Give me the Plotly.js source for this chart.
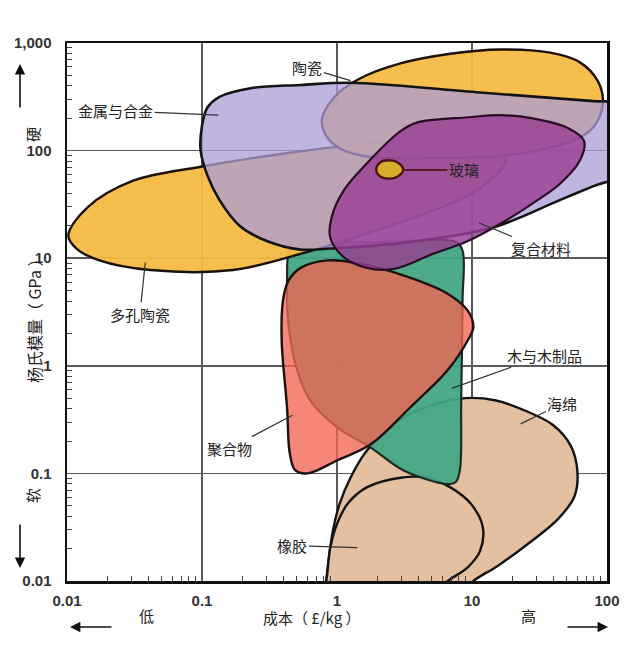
<!DOCTYPE html>
<html><head><meta charset="utf-8">
<script src="https://cdn.plot.ly/plotly-3.0.1.min.js"></script>
<style>html,body{margin:0;padding:0;background:#fff}</style>
</head><body><div id="chart" style="width:640px;height:649px"></div>
<script>
// Tick labels
const xTickVals = [0.01, 0.1, 1, 10, 100];
const xTickText = ['0.01', '0.1', '1', '10', '100'];
const yTickVals = [0.01, 0.1, 1, 10, 100, 1000];
const yTickText = ['0.01', '0.1', '1', '10', '100', '1,000'];

// Material envelopes: log10(cost £/kg), log10(Young's modulus GPa)
const foamLogCost = [-0.09,-0.08,-0.03,0.02,0.10,0.22,0.43,0.69,0.95,1.17,1.40,1.60,1.73,1.78,1.76,1.64,1.43,1.19,1.01,0.91];
const foamLogModulus = [-2.13,-2.00,-1.53,-1.28,-1.04,-0.79,-0.53,-0.37,-0.30,-0.32,-0.42,-0.55,-0.74,-0.97,-1.21,-1.42,-1.64,-1.86,-2.00,-2.13];

const rubberLogCost = [-0.11,-0.08,-0.05,0.00,0.08,0.22,0.47,0.67,0.84,0.99,1.08,1.06,0.97,0.82,0.69];
const rubberLogModulus = [-2.13,-2.00,-1.69,-1.47,-1.28,-1.13,-1.04,-1.04,-1.13,-1.28,-1.50,-1.72,-1.87,-2.00,-2.13];

const woodLogCost = [-0.35,-0.27,0.32,0.88,0.93,0.93,0.92,0.91,0.88,0.82,0.49,0.25,0.00,-0.20,-0.30,-0.36,-0.37];
const woodLogModulus = [1.07,1.13,1.15,1.15,1.07,0.61,-0.32,-0.97,-1.08,-1.10,-0.97,-0.76,-0.57,-0.32,-0.02,0.39,0.79];

const polymerLogCost = [-0.40,-0.41,-0.37,-0.35,-0.31,-0.22,0.00,0.25,0.54,0.82,0.97,1.01,0.97,0.82,0.54,0.17,-0.07,-0.27,-0.36];
const polymerLogModulus = [0.61,0.24,-0.39,-0.81,-0.97,-1.00,-0.88,-0.73,-0.39,-0.04,0.24,0.36,0.51,0.67,0.82,0.95,0.98,0.91,0.79];

const porousLogCost = [-1.99,-1.85,-1.51,-1.01,-0.35,0.25,0.77,1.14,1.25,1.06,0.62,0.02,-0.27,-0.77,-1.38,-1.76,-1.93];
const porousLogModulus = [1.21,1.47,1.72,1.85,1.98,2.07,2.12,2.08,1.91,1.65,1.40,1.15,1.04,0.89,0.89,0.98,1.09];

const ceramicLogCost = [-0.11,-0.01,0.17,0.47,0.84,1.21,1.58,1.80,1.93,1.97,1.94,1.86,1.65,1.21,0.69,0.25,0.02,-0.09];
const ceramicLogModulus = [2.30,2.51,2.67,2.81,2.90,2.94,2.91,2.82,2.65,2.47,2.30,2.17,2.05,1.95,1.93,1.94,2.02,2.16];

const metalLogCost = [-1.01,-1.00,-0.96,-0.87,-0.64,-0.27,0.10,1.06,1.90,2.40,2.40,1.90,1.65,1.14,0.47,-0.05,-0.27,-0.52,-0.72,-0.87,-0.96];
const metalLogModulus = [2.00,2.23,2.40,2.50,2.58,2.61,2.63,2.54,2.46,2.41,1.92,1.67,1.54,1.28,1.14,1.09,1.08,1.16,1.30,1.54,1.77];

const compositeLogCost = [-0.05,-0.04,0.05,0.22,0.47,0.59,0.97,1.21,1.45,1.71,1.83,1.80,1.65,1.45,1.21,0.97,0.71,0.42,0.22,0.05];
const compositeLogModulus = [1.19,1.38,1.63,1.88,2.18,2.26,2.31,2.33,2.30,2.21,2.09,1.91,1.69,1.51,1.32,1.16,1.04,0.90,0.91,1.01];

const glassLogCost = [0.29,0.32,0.39,0.45,0.49,0.45,0.39,0.32];
const glassLogModulus = [1.82,1.89,1.91,1.89,1.82,1.76,1.74,1.76];

// Labels: text, text position and leader-line target (log10 units)
const labelText = ['陶瓷','金属与合金','玻璃','复合材料','多孔陶瓷','木与木制品','海绵','聚合物','橡胶'];
const labelLogCost = [-0.22,-1.64,0.94,1.51,-1.46,1.54,1.67,-0.80,-0.33];
const labelLogModulus = [2.77,2.37,1.82,1.09,0.48,0.10,-0.35,-0.77,-1.67];
const targetLogCost = [0.10,-0.88,0.49,1.05,-1.42,0.85,1.36,-0.33,0.15];
const targetLogModulus = [2.65,2.33,1.82,1.33,0.96,-0.21,-0.54,-0.46,-1.69];

function blob(lc, lm, fill, line, lw) {
  const xs = lc.concat([lc[0]]).map(v => Math.pow(10, v));
  const ys = lm.concat([lm[0]]).map(v => Math.pow(10, v));
  return {
    type: 'scatter', mode: 'lines', x: xs, y: ys, fill: 'toself',
    fillcolor: fill, line: {color: line, width: lw, shape: 'spline', smoothing: 1},
    hoverinfo: 'skip', showlegend: false
  };
}

const traces = [
  blob(foamLogCost, foamLogModulus, 'rgb(229,192,160)', '#141414', 2.4),
  blob(rubberLogCost, rubberLogModulus, 'rgb(229,192,160)', '#141414', 2.4),
  blob(woodLogCost, woodLogModulus, 'rgba(66,166,132,0.94)', '#1d2b22', 2.2),
  blob(polymerLogCost, polymerLogModulus, 'rgba(242,100,82,0.78)', '#1e1210', 2.4),
  blob(porousLogCost, porousLogModulus, 'rgba(245,186,66,0.95)', '#1a1208', 2.4),
  blob(ceramicLogCost, ceramicLogModulus, 'rgba(245,186,66,0.95)', '#1a1208', 2.4),
  blob(metalLogCost, metalLogModulus, 'rgba(172,156,214,0.76)', '#141414', 2.6),
  blob(compositeLogCost, compositeLogModulus, 'rgba(152,62,148,0.82)', '#2a0c24', 2.2),
  blob(glassLogCost, glassLogModulus, 'rgb(214,174,44)', '#4a1414', 2.4)
];

const minorX = [], minorY = [];
[0.01, 0.1, 1, 10].forEach(d => { for (let k = 2; k <= 9; k++) minorX.push(d * k); });
[0.01, 0.1, 1, 10, 100].forEach(d => { for (let k = 2; k <= 9; k++) minorY.push(d * k); });

const tickFont = {family: 'Liberation Sans, Arial, sans-serif', size: 15, color: '#333', weight: 'bold'};
const cjk = 'Noto Sans CJK SC, sans-serif';

const annotations = labelText.map((t, i) => ({
  x: targetLogCost[i], y: targetLogModulus[i], xref: 'x', yref: 'y',
  ax: labelLogCost[i], ay: labelLogModulus[i], axref: 'x', ayref: 'y',
  text: t, showarrow: true, arrowhead: 0, standoff: 0,
  arrowwidth: t === '玻璃' ? 2 : 1.2, arrowcolor: t === '玻璃' ? '#5a1a2a' : '#333',
  font: {family: cjk, size: 15, color: '#222'}
}));

function px(x) { return (x - 67) / 540; }
function py(y) { return (581 - y) / 538; }

annotations.push(
  {xref: 'paper', yref: 'paper', x: px(20), y: py(317), text: '杨氏模量（\u00a0GPa\u00a0）', textangle: -90, showarrow: false, font: {family: cjk, size: 16, color: '#222'}},
  {xref: 'paper', yref: 'paper', x: px(20), y: py(125), text: '硬', textangle: -90, showarrow: false, font: {family: cjk, size: 15, color: '#222'}},
  {xref: 'paper', yref: 'paper', x: px(20), y: py(505), text: '软', textangle: -90, showarrow: false, font: {family: cjk, size: 15, color: '#222'}},
  {xref: 'paper', yref: 'paper', x: px(20), y: py(64), ax: 0, ay: 45, text: '', showarrow: true, arrowhead: 2, arrowsize: 1.3, arrowwidth: 1.6, arrowcolor: '#111', standoff: 0},
  {xref: 'paper', yref: 'paper', x: px(20), y: py(568), ax: 0, ay: -45, text: '', showarrow: true, arrowhead: 2, arrowsize: 1.3, arrowwidth: 1.6, arrowcolor: '#111', standoff: 0},
  {xref: 'paper', yref: 'paper', x: px(312), y: py(630), text: '成本（\u00a0£/kg\u00a0）', showarrow: false, font: {family: cjk, size: 15, color: '#222'}},
  {xref: 'paper', yref: 'paper', x: px(137), y: py(628), text: '低', showarrow: false, font: {family: cjk, size: 15, color: '#222'}},
  {xref: 'paper', yref: 'paper', x: px(538), y: py(628), text: '高', showarrow: false, font: {family: cjk, size: 15, color: '#222'}},
  {xref: 'paper', yref: 'paper', x: px(70), y: py(627), ax: 43, ay: 0, text: '', showarrow: true, arrowhead: 2, arrowsize: 1.3, arrowwidth: 1.6, arrowcolor: '#111', standoff: 0},
  {xref: 'paper', yref: 'paper', x: px(608), y: py(627), ax: -42, ay: 0, text: '', showarrow: true, arrowhead: 2, arrowsize: 1.3, arrowwidth: 1.6, arrowcolor: '#111', standoff: 0}
);

const layout = {
  width: 640, height: 649,
  margin: {l: 67, r: 33, t: 43, b: 68},
  paper_bgcolor: '#fff', plot_bgcolor: '#fff',
  showlegend: false,
  xaxis: {
    type: 'log', range: [-2, 2], tickmode: 'array', tickvals: xTickVals, ticktext: xTickText,
    tickfont: tickFont, ticks: '', showgrid: true, gridcolor: '#5a5a5a', gridwidth: 1.5,
    showline: true, linecolor: '#111', linewidth: 2.5, mirror: true, zeroline: false,
    ticklabelstandoff: 4,
    minor: {tickmode: 'array', tickvals: minorX, ticks: 'inside', ticklen: 5, tickcolor: '#444', tickwidth: 1, showgrid: false}
  },
  yaxis: {
    type: 'log', range: [-2, 3], tickmode: 'array', tickvals: yTickVals, ticktext: yTickText,
    tickfont: tickFont, ticks: '', showgrid: true, gridcolor: '#5a5a5a', gridwidth: 1.5,
    showline: true, linecolor: '#111', linewidth: 2.5, mirror: true, zeroline: false,
    ticklabelstandoff: 10,
    minor: {tickmode: 'array', tickvals: minorY, ticks: 'inside', ticklen: 5, tickcolor: '#444', tickwidth: 1, showgrid: false}
  },
  annotations: annotations
};

Plotly.newPlot('chart', traces, layout, {displayModeBar: false, staticPlot: true});
</script>
</body></html>
